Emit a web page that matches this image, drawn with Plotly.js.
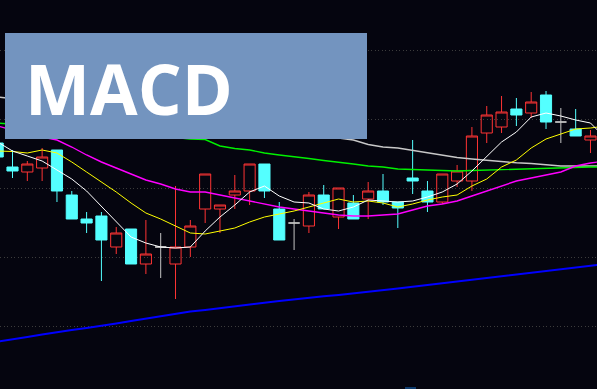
<!DOCTYPE html>
<html>
<head>
<meta charset="utf-8">
<script src="https://cdn.plot.ly/plotly-3.0.1.min.js"></script>
<style>html,body{margin:0;padding:0;background:#05050f;}#chart{width:597px;height:389px;}</style>
</head>
<body>
<div id="chart"></div>
<script>
// candle index positions
var idx = [0,1,2,3,4,5,6,7,8,9,10,11,12,13,14,15,16,17,18,19,20,21,22,23,24,25,26,27,28,29,30,31,32,33,34,35,36,37,38,39,40];
var openP  = [12.57,12.33,12.28,12.32,12.50,12.05,11.81,11.84,11.53,11.71,11.36,11.53,11.36,11.53,11.91,11.91,12.05,12.09,12.36,11.91,11.77,11.74,12.05,11.83,11.97,12.01,12.09,11.98,12.22,12.09,11.98,12.19,12.19,12.67,12.73,12.91,12.87,13.05,12.78,12.71,12.60];
var highP  = [12.57,12.50,12.39,12.52,12.50,12.09,11.88,11.88,11.73,11.71,11.80,11.67,12.14,11.80,12.26,11.95,12.25,12.36,12.36,11.98,11.81,12.08,12.15,12.12,12.05,12.18,12.26,11.98,12.60,12.19,12.26,12.35,12.73,12.94,13.04,13.02,13.08,13.09,12.92,12.91,12.70];
var lowP   = [12.43,12.22,12.19,12.19,11.98,11.81,11.67,11.19,11.46,11.36,11.26,11.22,11.01,11.43,11.77,11.67,11.91,11.95,12.02,11.60,11.50,11.67,11.91,11.71,11.81,11.81,11.95,11.72,12.06,11.88,11.96,12.13,12.09,12.57,12.67,12.74,12.82,12.71,12.57,12.64,12.47];
var closeP = [12.43,12.29,12.36,12.43,12.09,11.81,11.77,11.60,11.67,11.36,11.46,11.53,11.53,11.74,12.26,11.95,12.09,12.36,12.09,11.60,11.77,12.05,11.91,12.12,11.81,12.09,11.98,11.92,12.19,11.98,12.26,12.29,12.64,12.85,12.88,12.85,12.98,12.78,12.78,12.64,12.64];

// moving averages (index 0..41; 41 lies just past the right edge)
var maIdx = idx.concat([41]);
var ma5   = [12.58,12.49,12.44,12.39,12.30,12.21,12.09,11.94,11.79,11.63,11.57,11.53,11.52,11.53,11.69,11.83,11.95,12.08,12.14,12.04,11.98,11.97,11.91,11.89,11.93,12.00,11.99,11.98,11.99,12.03,12.08,12.16,12.29,12.43,12.58,12.68,12.83,12.87,12.84,12.80,12.77,12.62];
var ma10  = [12.49,12.485,12.47,12.50,12.47,12.38,12.28,12.18,12.08,11.97,11.87,11.81,11.74,11.67,11.66,11.69,11.72,11.78,11.83,11.86,11.89,11.93,11.97,12.01,11.98,11.99,11.97,11.93,11.96,12.00,12.03,12.05,12.14,12.21,12.33,12.40,12.52,12.61,12.66,12.71,12.72,12.74];
var ma20  = [12.74,12.70,12.67,12.63,12.60,12.53,12.45,12.38,12.32,12.26,12.20,12.16,12.11,12.08,12.08,12.05,12.02,11.99,11.96,11.93,11.91,11.89,11.87,11.85,11.84,11.84,11.85,11.86,11.90,11.94,11.96,11.99,12.04,12.09,12.14,12.19,12.22,12.25,12.28,12.34,12.37,12.39];
var ma30  = [12.77,12.76,12.75,12.735,12.72,12.71,12.70,12.69,12.675,12.66,12.65,12.64,12.625,12.61,12.605,12.54,12.515,12.50,12.47,12.45,12.435,12.415,12.395,12.38,12.36,12.34,12.33,12.31,12.305,12.30,12.29,12.29,12.295,12.30,12.30,12.305,12.31,12.32,12.325,12.33,12.33,12.33];
var ma60  = [13.03,13.015,13.00,12.98,12.96,12.94,12.925,12.91,12.89,12.87,12.85,12.835,12.82,12.80,12.78,12.76,12.745,12.73,12.71,12.69,12.67,12.655,12.64,12.62,12.60,12.555,12.53,12.52,12.495,12.47,12.447,12.425,12.41,12.395,12.38,12.372,12.365,12.355,12.34,12.34,12.34,12.34];
var ma250 = [10.585,10.605,10.63,10.655,10.68,10.70,10.72,10.74,10.765,10.79,10.815,10.84,10.86,10.885,10.90,10.92,10.936,10.955,10.973,10.991,11.008,11.022,11.037,11.051,11.065,11.08,11.095,11.114,11.132,11.15,11.168,11.187,11.205,11.222,11.239,11.256,11.273,11.291,11.308,11.325,11.342,11.36];

var labelText = 'MACD';

function pick(arr, cond){ var o=[]; for(var k=0;k<arr.length;k++){ if(cond(k)) o.push(arr[k]); } return o; }
var isUp   = function(k){ return closeP[k] > openP[k]; };
var isDown = function(k){ return closeP[k] < openP[k]; };
var isDoji = function(k){ return closeP[k] === openP[k]; };

function candle(cond, incColor, incFill, decColor, decFill){
  return {
    type:'candlestick',
    x: pick(idx,cond), open: pick(openP,cond), high: pick(highP,cond), low: pick(lowP,cond), close: pick(closeP,cond),
    increasing:{line:{color:incColor,width:1}, fillcolor:incFill},
    decreasing:{line:{color:decColor,width:1}, fillcolor:decFill},
    whiskerwidth:0, hoverinfo:'skip', showlegend:false
  };
}
function ma(y, color, w){
  return {type:'scatter', mode:'lines', x:maIdx, y:y, line:{color:color, width:w}, hoverinfo:'skip', showlegend:false};
}

var data = [
  candle(isUp, '#ff3434', 'rgba(0,0,0,0)', '#ff3434', 'rgba(0,0,0,0)'),
  candle(isDown, '#54ffff', '#54ffff', '#54ffff', '#54ffff'),
  candle(isDoji, '#c4c4c4', '#c4c4c4', '#c4c4c4', '#c4c4c4'),
  ma(ma250, '#0000ff', 2),
  ma(ma60, '#c8c8c8', 1.4),
  ma(ma30, '#00f000', 1.4),
  ma(ma20, '#ff00ff', 1.4),
  ma(ma10, '#ffff00', 1),
  ma(ma5, '#ffffff', 1)
];

var W = 597, H = 389;
var layout = {
  width: W, height: H,
  margin:{l:0,r:0,t:0,b:0,pad:0},
  paper_bgcolor:'#05050f', plot_bgcolor:'#05050f',
  showlegend:false,
  boxmode:'overlay', boxgap:0.25, boxgroupgap:0,
  xaxis:{range:[0.1565, 40.44], showgrid:false, zeroline:false, showticklabels:false, ticks:'', showline:false, rangeslider:{visible:false}, fixedrange:true},
  yaxis:{range:[10.11, 14.00], tick0:10.74, dtick:0.69, showgrid:true, gridcolor:'#3c3c3c', griddash:'1px,2.5px', gridwidth:1, zeroline:false, showticklabels:false, ticks:'', showline:false, fixedrange:true},
  shapes:[
    {type:'rect', xref:'paper', yref:'paper', x0:5/W, x1:367/W, y0:1-139/H, y1:1-33/H, fillcolor:'#7394bf', line:{width:0}, layer:'above'},
    {type:'rect', xref:'paper', yref:'paper', x0:405/W, x1:416/W, y0:0, y1:2/H, fillcolor:'#0d3b6e', line:{width:0}, layer:'above'}
  ],
  annotations:[
    {text:labelText, xref:'paper', yref:'paper', x:23/W, y:1-87.5/H, xanchor:'left', yanchor:'middle', showarrow:false,
     font:{family:'Open Sans', size:69, color:'#ffffff', weight:700}}
  ]
};

Plotly.newPlot('chart', data, layout, {displayModeBar:false, staticPlot:true});
</script>
</body>
</html>
